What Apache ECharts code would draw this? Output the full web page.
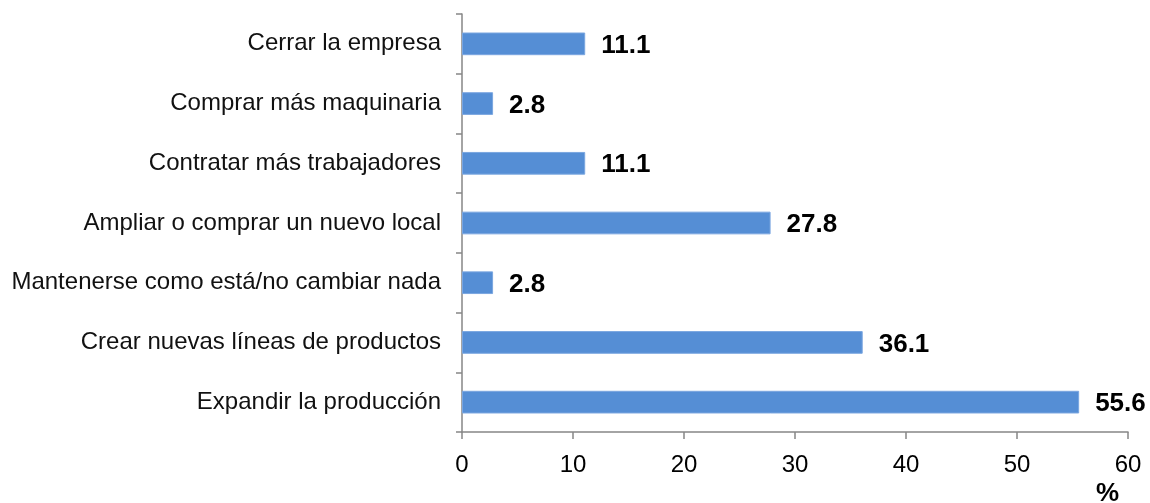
<!DOCTYPE html>
<html>
<head>
<meta charset="utf-8">
<script src="https://cdn.jsdelivr.net/npm/echarts@6/dist/echarts.min.js"></script>
<style>
  html, body { margin: 0; padding: 0; background: #ffffff; }
  #chart { width: 1150px; height: 503px; }
</style>
</head>
<body>
<div id="chart"></div>
<script>
// Planes de la empresa (porcentaje de respuestas), de arriba hacia abajo
const categories = [
  'Cerrar la empresa',
  'Comprar más maquinaria',
  'Contratar más trabajadores',
  'Ampliar o comprar un nuevo local',
  'Mantenerse como está/no cambiar nada',
  'Crear nuevas líneas de productos',
  'Expandir la producción'
];
const values = [11.1, 2.8, 11.1, 27.8, 2.8, 36.1, 55.6];
const xTicks = [0, 10, 20, 30, 40, 50, 60];
const unitLabel = '%';

const FONT = '"Liberation Sans", Arial, sans-serif';
const axisGray = '#868686';

const chart = echarts.init(document.getElementById('chart'), null, { renderer: 'canvas' });

chart.setOption({
  animation: false,
  backgroundColor: '#ffffff',
  title: {
    text: unitLabel,
    left: 1096,
    top: 481,
    padding: 0,
    textStyle: { fontFamily: FONT, fontSize: 26, fontWeight: 'bold', color: '#000000' }
  },
  grid: { left: 462, right: 22, top: 14, bottom: 71, containLabel: false },
  xAxis: {
    type: 'value',
    min: xTicks[0],
    max: xTicks[xTicks.length - 1],
    interval: xTicks[1] - xTicks[0],
    splitLine: { show: false },
    axisLine: { show: true, lineStyle: { color: axisGray, width: 1.5 } },
    axisTick: { show: true, length: 7, lineStyle: { color: axisGray, width: 1.5 } },
    axisLabel: { margin: 21, fontFamily: FONT, fontSize: 24, color: '#000000' }
  },
  yAxis: {
    type: 'category',
    data: categories,
    inverse: true,
    axisLine: { show: true, lineStyle: { color: axisGray, width: 1.5 } },
    axisTick: { show: true, length: 6, alignWithLabel: false, lineStyle: { color: axisGray, width: 1.5 } },
    axisLabel: { margin: 21, fontFamily: FONT, fontSize: 24, color: '#111111' }
  },
  series: [{
    type: 'bar',
    data: values,
    barCategoryGap: '62%',
    itemStyle: { color: '#558ED5', borderColor: '#7AA6E0', borderWidth: 1 },
    label: {
      show: true,
      position: 'right',
      distance: 16,
      offset: [0, 2],
      fontFamily: FONT,
      fontSize: 26,
      fontWeight: 'bold',
      color: '#000000',
      formatter: p => p.value.toFixed(1)
    }
  }]
});
</script>
</body>
</html>
